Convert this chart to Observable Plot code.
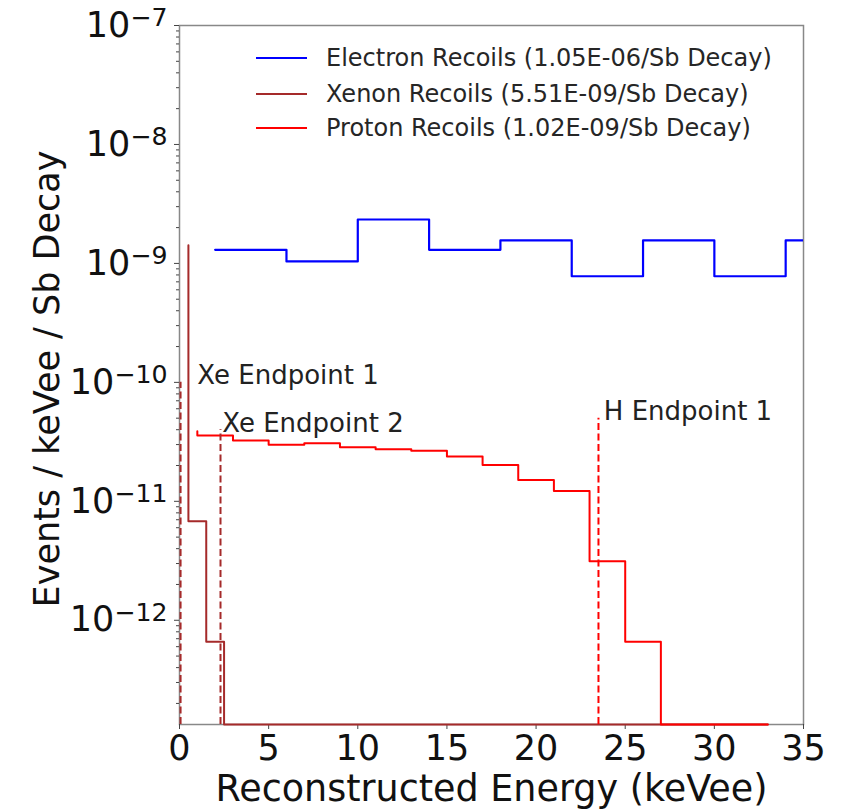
<!DOCTYPE html>
<html>
<head>
<meta charset="utf-8">
<script src="https://cdn.jsdelivr.net/npm/d3@7"></script>
<script src="https://cdn.jsdelivr.net/npm/@observablehq/plot@0.6"></script>
<style>
  body { margin: 0; background: #fff; }
  #wrap { position: relative; width: 851px; height: 812px; font-family: "DejaVu Sans", sans-serif; }
  .lg-row { position: absolute; left: 256px; height: 30px; display: flex; align-items: center; font-size: 24px; color: #262626; white-space: nowrap; }
  .lg-sw { width: 51px; height: 2px; margin-right: 19px; }
</style>
</head>
<body>
<div id="wrap"></div>
<script>
// ---- data ----
const seriesNames = [
  "Electron Recoils (1.05E-06/Sb Decay)",
  "Xenon Recoils (5.51E-09/Sb Decay)",
  "Proton Recoils (1.02E-09/Sb Decay)"
];
const seriesColors = ["#0000ff", "#a52a2a", "#ff0000"];

// step points (matplotlib "pre" step: value applies to the interval ending at x)
const electronX = [2, 6, 10, 14, 18, 22, 26, 30, 34, 38];
const electronY = [1.30e-9, 1.30e-9, 1.04e-9, 2.34e-9, 1.30e-9, 1.56e-9, 7.8e-10, 1.56e-9, 7.8e-10, 1.56e-9];

const xenonX = [0.5, 1.5, 2.5, 33];
const xenonY = [1.42e-9, 6.8e-12, 6.6e-13, 0];

const protonX = [1, 3, 5, 7, 9, 11, 13, 15, 17, 19, 21, 23, 25, 27, 29, 31, 33];
const protonY = [3.88e-11, 3.57e-11, 3.25e-11, 2.99e-11, 3.08e-11, 2.85e-11, 2.74e-11, 2.66e-11,
                 2.38e-11, 2.02e-11, 1.51e-11, 1.22e-11, 3.13e-12, 6.6e-13, 0, 0, 0];

const endpointNames = ["Xe Endpoint 1", "Xe Endpoint 2", "H Endpoint 1"];
const endpointX = [0.06, 2.3, 23.5];
const endpointTop = [1.0e-10, 4.0e-11, 5.0e-11];
const endpointLabelX = [1.0, 2.4, 23.8];
const endpointColors = ["#a52a2a", "#a52a2a", "#ff0000"];

const xTicks = [0, 5, 10, 15, 20, 25, 30, 35];
const yTicks = [1e-12, 1e-11, 1e-10, 1e-9, 1e-8, 1e-7];
const yTickExp = ["−12", "−11", "−10", "−9", "−8", "−7"];
const yMinorTicks = [];
for (let e = -13; e <= -8; e++) for (let m = 2; m <= 9; m++) yMinorTicks.push(m * Math.pow(10, e));

const xLabel = "Reconstructed Energy (keVee)";
const yLabel = "Events / keVee / Sb Decay";

const xDomain = [0, 35];
const yDomain = [1.33e-13, 1e-7];
const yMin = yDomain[0];

// ---- build ----
const pts = (xs, ys) => xs.map((x, i) => ({x, y: Math.max(ys[i], yMin)}));
const endpoints = endpointNames.map((n, i) => ({name: n, x: endpointX[i], top: endpointTop[i], lx: endpointLabelX[i], c: endpointColors[i]}));

const chart = Plot.plot({
  width: 851,
  height: 812,
  marginLeft: 179,
  marginRight: 48,
  marginTop: 25,
  marginBottom: 88,
  style: {fontFamily: "DejaVu Sans, sans-serif", color: "#111", background: "#fff"},
  x: {domain: xDomain},
  y: {type: "log", domain: yDomain},
  marks: [
    Plot.frame({stroke: "#888", strokeWidth: 1.5}),
    Plot.axisX({ticks: xTicks, tickSize: 5, tickPadding: 6, fontSize: 35, label: null, stroke: "#444"}),
    Plot.axisY({ticks: yTicks, tickSize: 5, tickPadding: 7, fontSize: 35, label: null, stroke: "#444",
                tickFormat: (d) => "10" + yTickExp[yTicks.indexOf(d)]}),
    Plot.axisY({ticks: yMinorTicks.filter(v => v >= yDomain[0] && v <= yDomain[1]), tickSize: 3, tickFormat: null, label: null, stroke: "#444"}),
    Plot.line(pts(electronX, electronY), {x: "x", y: "y", curve: "step-before", stroke: seriesColors[0], strokeWidth: 2.2, clip: true}),
    Plot.line(pts(xenonX, xenonY), {x: "x", y: "y", curve: "step-before", stroke: seriesColors[1], strokeWidth: 2}),
    Plot.line(pts(protonX, protonY), {x: "x", y: "y", curve: "step-before", stroke: seriesColors[2], strokeWidth: 2}),
    Plot.ruleX(endpoints, {x: "x", y1: yMin, y2: "top", stroke: "c", strokeWidth: 2, strokeDasharray: "7,3.5"}),
    Plot.text(endpoints, {x: "lx", y: "top", text: "name", textAnchor: "start", lineAnchor: "bottom", dy: 2, fontSize: 26, fill: "#222"}),
    Plot.text([xLabel], {frameAnchor: "bottom", dy: 65, textAnchor: "middle", lineAnchor: "middle", fontSize: 36.5, fill: "#111"}),
    Plot.text([yLabel], {frameAnchor: "left", dx: -132, dy: 4, rotate: -90, textAnchor: "middle", lineAnchor: "middle", fontSize: 35, fill: "#111"})
  ]
});

// superscript exponents on y tick labels
d3.select(chart).selectAll("g[aria-label='y-axis tick label'] text").each(function() {
  const t = d3.select(this);
  const s = t.text();
  if (s.startsWith("10")) {
    t.text("10");
    t.append("tspan").attr("dy", "-0.42em").attr("font-size", "0.72em").text(s.slice(2));
  }
});

const wrap = document.getElementById("wrap");
wrap.appendChild(chart);

// legend
const rowsY = [58, 94, 128];
seriesNames.forEach((name, i) => {
  const row = document.createElement("div");
  row.className = "lg-row";
  row.style.top = (rowsY[i] - 15) + "px";
  const sw = document.createElement("div");
  sw.className = "lg-sw";
  sw.style.background = seriesColors[i];
  const tx = document.createElement("span");
  tx.textContent = name;
  row.appendChild(sw);
  row.appendChild(tx);
  wrap.appendChild(row);
});
</script>
</body>
</html>
